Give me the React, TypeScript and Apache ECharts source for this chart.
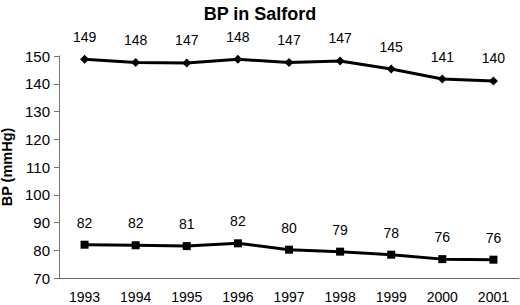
import React, { useEffect, useRef } from "react";
import * as echarts from "echarts";

const years = ["1993", "1994", "1995", "1996", "1997", "1998", "1999", "2000", "2001"];
const systolic = [148.8, 147.7, 147.5, 148.8, 147.7, 148.2, 145.3, 141.7, 141.0];
const systolicLabels = ["149", "148", "147", "148", "147", "147", "145", "141", "140"];
const diastolic = [82.0, 81.8, 81.5, 82.5, 80.2, 79.5, 78.4, 76.8, 76.6];
const diastolicLabels = ["82", "82", "81", "82", "80", "79", "78", "76", "76"];

const FONT = "Liberation Sans, Arial, sans-serif";

export default function App() {
  const ref = useRef<HTMLDivElement>(null);
  useEffect(() => {
    if (!ref.current) return;
    const chart = echarts.init(ref.current, null, { renderer: "svg" });
    const labelStyle = (labels: string[]) => ({
      show: true,
      position: "top" as const,
      distance: 11,
      color: "#000",
      fontSize: 14,
      fontFamily: FONT,
      formatter: (p: any) => labels[p.dataIndex],
    });
    chart.setOption({
      animation: false,
      backgroundColor: "#fff",
      title: {
        text: "BP in Salford",
        left: "center",
        top: 0,
        textStyle: { fontSize: 18, fontWeight: "bold", color: "#000", fontFamily: FONT },
      },
      grid: {
        left: 59,
        right: 1,
        top: 56,
        bottom: 27,
        containLabel: false,
        outerBoundsMode: "none",
      },
      xAxis: {
        type: "category",
        data: years,
        boundaryGap: true,
        axisLine: { lineStyle: { color: "#666", width: 1 } },
        axisTick: { show: false },
        axisLabel: { color: "#000", fontSize: 14, fontFamily: FONT, margin: 12 },
        splitLine: { show: false },
      },
      yAxis: {
        type: "value",
        min: 70,
        max: 150,
        interval: 10,
        name: "BP (mmHg)",
        nameLocation: "middle",
        nameGap: 42,
        nameTextStyle: { fontSize: 14.5, fontWeight: "bold", color: "#000", fontFamily: FONT },
        axisLine: { show: true, lineStyle: { color: "#777", width: 1 } },
        axisTick: { show: true, length: 5, lineStyle: { color: "#777" } },
        axisLabel: { color: "#000", fontSize: 15, fontFamily: FONT, margin: 9 },
        splitLine: { show: false },
      },
      series: [
        {
          type: "line",
          data: systolic,
          symbol: "diamond",
          symbolSize: 9,
          showAllSymbol: true,
          lineStyle: { color: "#000", width: 3 },
          itemStyle: { color: "#000" },
          label: labelStyle(systolicLabels),
        },
        {
          type: "line",
          data: diastolic,
          symbol: "rect",
          symbolSize: 8,
          showAllSymbol: true,
          lineStyle: { color: "#000", width: 3 },
          itemStyle: { color: "#000" },
          label: labelStyle(diastolicLabels),
        },
      ],
    });
    return () => chart.dispose();
  }, []);
  return (
    <div
      ref={ref}
      style={{ position: "fixed", left: 0, top: 0, width: 520, height: 305, background: "#fff" }}
    />
  );
}
